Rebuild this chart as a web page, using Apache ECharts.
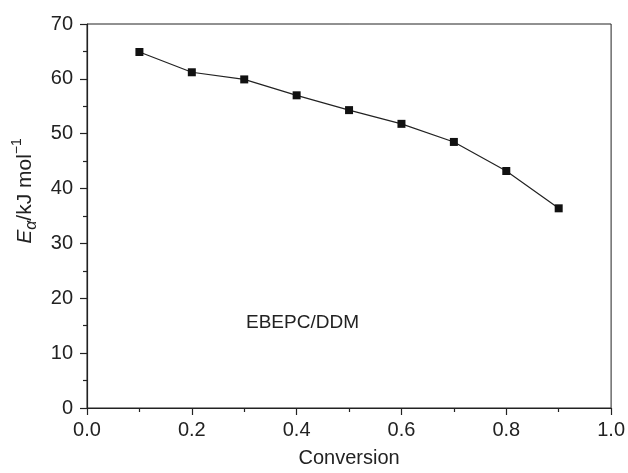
<!DOCTYPE html>
<html>
<head>
<meta charset="utf-8">
<script src="https://cdn.jsdelivr.net/npm/echarts@6/dist/echarts.min.js"></script>
<style>
html,body{margin:0;padding:0;background:#fff;}
#chart{width:628px;height:473px;}
</style>
</head>
<body>
<div id="chart"></div>
<script>
const conversion = [0.1, 0.2, 0.3, 0.4, 0.5, 0.6, 0.7, 0.8, 0.9];
const activationEnergy = [64.9, 61.2, 59.9, 57.0, 54.3, 51.8, 48.5, 43.2, 36.4];
const xTicks = [0.0, 0.2, 0.4, 0.6, 0.8, 1.0];
const yTicks = [0, 10, 20, 30, 40, 50, 60, 70];
const annotation = 'EBEPC/DDM';

const FONT = 'Liberation Sans, Arial, Helvetica, sans-serif';
const chart = echarts.init(document.getElementById('chart'), null, {renderer: 'canvas'});
chart.setOption({
  backgroundColor: '#fff',
  animation: false,
  grid: {left: 87, right: 16, top: 24, bottom: 59, show: true, borderColor: '#222', borderWidth: 1, backgroundColor: 'transparent'},
  xAxis: {
    type: 'value', min: xTicks[0], max: xTicks[xTicks.length - 1], interval: 0.2,
    name: 'Conversion', nameLocation: 'middle', nameGap: 40,
    nameTextStyle: {fontFamily: FONT, fontSize: 20, color: '#222'},
    axisLine: {show: true, onZero: false, lineStyle: {color: '#222', width: 1.2}},
    axisTick: {show: true, inside: false, length: 7, lineStyle: {color: '#222', width: 1.2}},
    minorTick: {show: true, splitNumber: 2, length: 4, lineStyle: {color: '#222', width: 1.2}},
    splitLine: {show: false},
    axisLabel: {margin: 12, fontFamily: FONT, fontSize: 20, color: '#222', formatter: v => v.toFixed(1)}
  },
  yAxis: {
    type: 'value', min: yTicks[0], max: yTicks[yTicks.length - 1], interval: 10,
    name: '{i|E}{sub|α}{n|/kJ mol}{sup|−1}', nameLocation: 'middle', nameGap: 43, nameRotate: 90,
    nameTextStyle: {
      fontFamily: FONT, fontSize: 20, color: '#222', padding: [0, 0, 0, 50],
      rich: {
        i: {fontFamily: FONT, fontSize: 21, fontStyle: 'italic', color: '#222', lineHeight: 30},
        n: {fontFamily: FONT, fontSize: 21, color: '#222', lineHeight: 30},
        sub: {fontFamily: FONT, fontSize: 16, fontStyle: 'italic', color: '#222', lineHeight: 14, verticalAlign: 'bottom'},
        sup: {fontFamily: FONT, fontSize: 14, color: '#222', lineHeight: 14, verticalAlign: 'top'}
      }
    },
    axisLine: {show: true, onZero: false, lineStyle: {color: '#222', width: 1.2}},
    axisTick: {show: true, inside: false, length: 7, lineStyle: {color: '#222', width: 1.2}},
    minorTick: {show: true, splitNumber: 2, length: 4, lineStyle: {color: '#222', width: 1.2}},
    splitLine: {show: false},
    axisLabel: {margin: 14, fontFamily: FONT, fontSize: 20, color: '#222'}
  },
  graphic: [{
    type: 'text', left: 246, top: 313,
    style: {text: annotation, fontFamily: FONT, fontSize: 19, fill: '#222'}
  }],
  series: [{
    type: 'line',
    data: conversion.map((x, i) => [x, activationEnergy[i]]),
    symbol: 'rect', symbolSize: 8,
    itemStyle: {color: '#111', borderColor: '#111', borderWidth: 0},
    lineStyle: {color: '#222', width: 1.2}
  }]
});
</script>
</body>
</html>
